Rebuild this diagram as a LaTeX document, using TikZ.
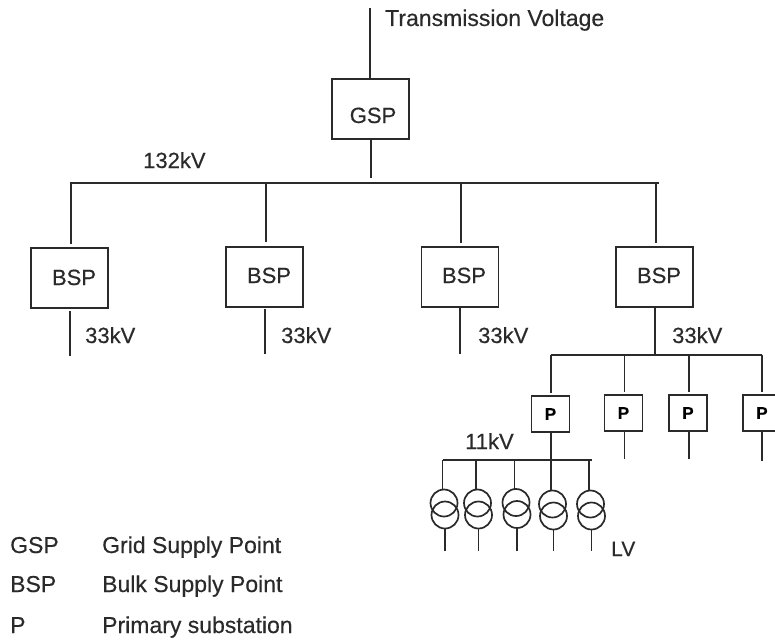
\documentclass[tikz,border=0pt]{standalone}
\usepackage{fontspec}
\setmainfont{Liberation Sans}[FakeBold=0.35]
\definecolor{ink}{HTML}{2A2A2A}
\tikzset{
  wire/.style={draw=ink,line width=1.4pt},
  heavy/.style={draw=ink,line width=1.9pt},
  box/.style={draw=ink,line width=1.5pt,fill=white,inner sep=0pt,font=\fontsize{22}{24}\selectfont},
  bigbox/.style={box,minimum width=77pt,minimum height=60pt},
  pbox/.style={box,minimum width=38pt,minimum height=36pt,font=\bfseries\fontsize{17}{19}\selectfont},
  lab/.style={anchor=base west,inner sep=0pt,text=ink,font=\fontsize{22}{24}\selectfont},
  leg/.style={anchor=base west,inner sep=0pt,text=ink,font=\fontsize{23}{25}\selectfont},
  coil/.style={circle,draw=ink,line width=1.7pt,minimum size=27pt,inner sep=0pt},
}
\begin{document}
\begin{tikzpicture}[x=1pt,y=-1pt]
\useasboundingbox (0,0) rectangle (775,642);
\clip (0,0) rectangle (775,642);
% boxes
\node[bigbox] (gsp) at (370.5,109) {};
\node[lab,anchor=base] (gsptxt) at (373,123) {GSP};
\node[bigbox] (b1) at (69.5,278) {};
\node[lab,anchor=base] (b1t) at (74,285) {BSP};
\node[bigbox] (b2) at (264.5,277) {};
\node[lab,anchor=base] (b2t) at (269,283) {BSP};
\node[bigbox] (b3) at (460,277) {};
\node[lab,anchor=base] (b3t) at (464,283) {BSP};
\node[bigbox] (b4) at (654.5,277) {};
\node[lab,anchor=base] (b4t) at (659,283) {BSP};
\node[pbox] (p1) at (550.5,414) {P};
\node[pbox] (p2) at (623.5,413) {P};
\node[pbox] (p3) at (688,413) {P};
\node[pbox] (p4) at (762,413) {P};
% free ends and junctions
\coordinate (top) at (370,8);
\coordinate (topb) at (370,79);
\coordinate (gspdown) at (371,178);
\coordinate (gspb) at (371,139);
\coordinate (busL) at (70,183);
\coordinate (busR) at (659,183);
\coordinate (d1a) at (71,183); \coordinate (d1b) at (71,244);
\coordinate (d2a) at (266,183); \coordinate (d2b) at (266,242);
\coordinate (d3a) at (461,183); \coordinate (d3b) at (461,243);
\coordinate (d4a) at (656,183); \coordinate (d4b) at (656,243);
\coordinate (l1a) at (70,311); \coordinate (l1b) at (70,356);
\coordinate (l2a) at (265,309); \coordinate (l2b) at (265,354);
\coordinate (l3a) at (460,307); \coordinate (l3b) at (460,354);
\coordinate (l4a) at (655,307); \coordinate (l4b) at (655,355);
\coordinate (pbL) at (551,355); \coordinate (pbR) at (762,355);
\coordinate (p1a) at (551,355); \coordinate (p1b) at (551,393);
\coordinate (p2a) at (624.5,355); \coordinate (p2b) at (624.5,392);
\coordinate (p3a) at (689,355); \coordinate (p3b) at (689,392);
\coordinate (p4a) at (762,355); \coordinate (p4b) at (762,392);
\coordinate (p1l) at (551,432); \coordinate (p1m) at (551,460);
\coordinate (p2l) at (624.5,431); \coordinate (p2m) at (624.5,459);
\coordinate (p3l) at (689,431); \coordinate (p3m) at (689,459);
\coordinate (p4l) at (762,431); \coordinate (p4m) at (762,461);
\coordinate (lvL) at (443,460); \coordinate (lvR) at (592,460);
% connectors
\draw[wire] (top) -- (topb);
\draw[wire] (gspb) -- (gspdown);
\draw[wire] (busL) -- (busR);
\draw[heavy] (d1a) -- (d1b);
\draw[heavy] (d2a) -- (d2b);
\draw[wire] (d3a) -- (d3b);
\draw[wire] (d4a) -- (d4b);
\draw[heavy] (l1a) -- (l1b);
\draw[heavy] (l2a) -- (l2b);
\draw[wire] (l3a) -- (l3b);
\draw[wire] (l4a) -- (l4b);
\draw[wire,line width=1.6pt] (pbL) -- (pbR);
\foreach \k in {1,2,3,4}{
  \draw[wire] (p\k a) -- (p\k b);
  \draw[wire] (p\k l) -- (p\k m);
}
\draw[wire,line width=1.6pt] (lvL) -- (lvR);
% transformers
\foreach \k/\x/\dy in {1/444.5/0,2/478/0,3/516.5/-0.5,4/553/1,5/591/1}{
  \coordinate (ta\k) at (\x-2,460);
  \coordinate (tb\k) at (\x-2,489+\dy);
  \node[coil] (u\k) at (\x-0.5,503+\dy) {};
  \node[coil] (v\k) at (\x+0.5,515+\dy) {};
  \coordinate (tc\k) at (\x+0.5,528+\dy);
  \coordinate (td\k) at (\x+0.5,551);
  \draw[wire] (ta\k) -- (tb\k);
  \draw[wire] (tc\k) -- (td\k);
}
% labels
\node[leg] (tv) at (385,26) {Transmission Voltage};
\node[lab] (kv132) at (143,168) {132kV};
\node[lab] (kv33a) at (85,343) {33kV};
\node[lab] (kv33b) at (281,343) {33kV};
\node[lab] (kv33c) at (478,343) {33kV};
\node[lab] (kv33d) at (672,343) {33kV};
\node[lab] (kv11) at (465,449) {11kV};
\node[lab,font=\fontsize{21}{23}\selectfont] (lv) at (611,556) {LV};
\node[leg] (g1) at (10,553) {GSP};
\node[leg] (g2) at (102,553) {Grid Supply Point};
\node[leg] (h1) at (10,592) {BSP};
\node[leg] (h2) at (102,592) {Bulk Supply Point};
\node[leg] (i1) at (10,633) {P};
\node[leg] (i2) at (102,633) {Primary substation};
\end{tikzpicture}
\end{document}
